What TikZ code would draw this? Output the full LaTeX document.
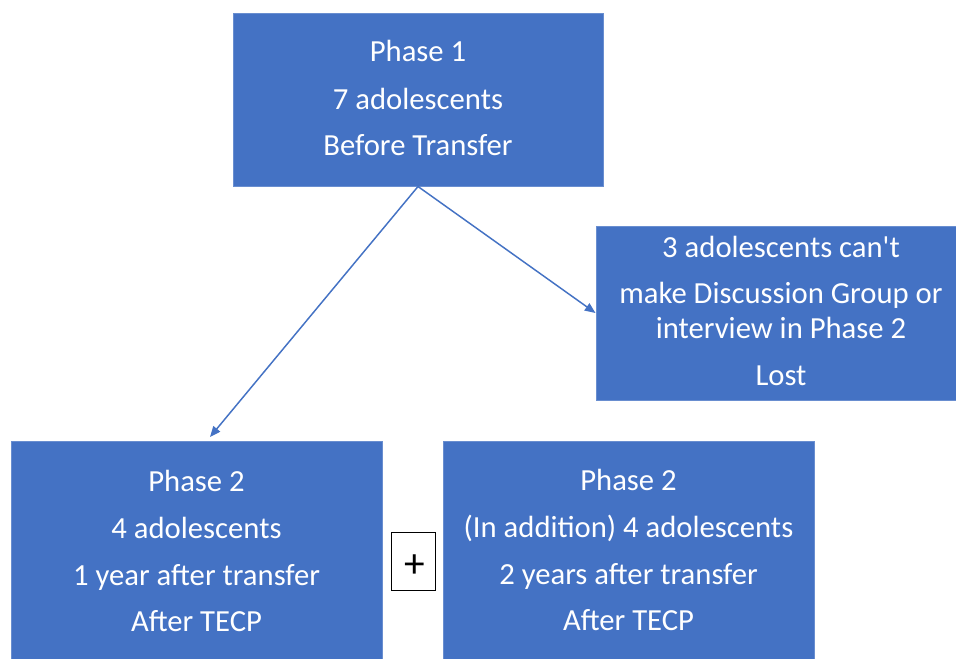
\documentclass[tikz,border=0pt]{standalone}
\usepackage{fontspec}
\setmainfont{Carlito}
\usetikzlibrary{arrows.meta}
\definecolor{boxblue}{HTML}{4472C4}
\tikzset{
  box/.style={fill=boxblue, draw=boxblue!80!white, line width=0.75pt, inner sep=0pt},
  txt/.style={text=white, anchor=base, inner sep=0pt, font=\fontsize{23}{27}\selectfont},
  conn/.style={draw=boxblue, line width=1.1pt, -{Triangle[length=8pt,width=6.5pt]}},
  plusbox/.style={draw=black, line width=0.75pt, fill=white, inner sep=0pt},
}
\begin{document}
\begin{tikzpicture}[x=0.75pt,y=-0.75pt]
\useasboundingbox (0,0) rectangle (956,658);
\fill[white] (0,0) rectangle (956,658);
% boxes
\node[box, minimum width=370*0.75pt, minimum height=173*0.75pt] (top) at (418,99.5) {};
\node[box, minimum width=362*0.75pt, minimum height=174*0.75pt] (lost) at (777,313) {};
\node[box, minimum width=371*0.75pt, minimum height=218*0.75pt] (bl) at (196.5,550) {};
\node[box, minimum width=371*0.75pt, minimum height=218*0.75pt] (br) at (628.5,550) {};
\node[plusbox, minimum width=44*0.75pt, minimum height=58*0.75pt] (plus) at (413.3,561) {};
\node[anchor=center, inner sep=0pt, font=\fontsize{31}{31}\selectfont] (plussign) at (414.3,566) {+};
% top text
\node[txt] (t1) at (418,61.7) {Phase 1};
\node[txt] (t2) at (418,109) {7 adolescents};
\node[txt] (t3) at (418,155.7) {Before Transfer};
% lost text
\node[txt] (l1) at (781,257.3) {3 adolescents can\textquotesingle t};
\node[txt] (l2) at (781,303.3) {make Discussion Group or};
\node[txt] (l3) at (781,338.3) {interview in Phase 2};
\node[txt] (l4) at (781,385.7) {Lost};
% bottom left text
\node[txt] (a1) at (196.5,491) {Phase 2};
\node[txt] (a2) at (196.5,538.3) {4 adolescents};
\node[txt] (a3) at (196.5,585) {1 year after transfer};
\node[txt] (a4) at (196.5,631.7) {After TECP};
% bottom right text
\node[txt] (b1) at (628.5,490) {Phase 2};
\node[txt] (b2) at (628.5,537.3) {(In addition) 4 adolescents};
\node[txt] (b3) at (628.5,584) {2 years after transfer};
\node[txt] (b4) at (628.5,630.7) {After TECP};
% connectors
\coordinate (blin) at (210,437);
\draw[conn] (top.south) -- (blin);
\draw[conn] (top.south) -- (lost.west);
\end{tikzpicture}
\end{document}
